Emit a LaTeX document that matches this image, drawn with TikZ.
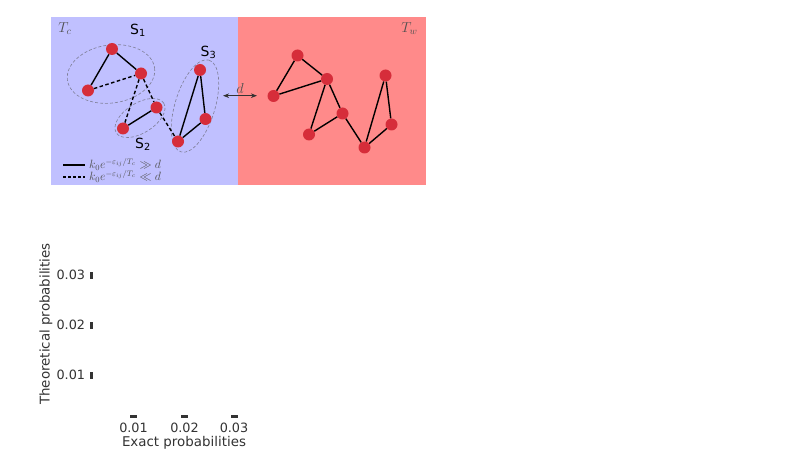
\documentclass[tikz,border=0pt]{standalone}
\usepackage{amsmath,amssymb}
\usepackage{fontspec}
\usepackage{tikz}
\usepackage{xcolor}
\usetikzlibrary{arrows.meta,positioning}
\setsansfont{DejaVu Sans}
\newfontfamily\plotfont{DejaVu Sans}
\definecolor{PanelCold}{HTML}{C0C0FF}
\definecolor{PanelWarm}{HTML}{FF8A8A}
\definecolor{SpinRed}{HTML}{D62D3A}
\definecolor{RingGray}{HTML}{7E7E96}
\definecolor{LabelGray}{HTML}{505050}
\definecolor{AxisGray}{HTML}{333333}
\tikzset{
    % Spin node style
    spinnode/.style={
        circle,
        fill=SpinRed,
        draw=none,
        inner sep=0pt,
        minimum size=12pt
    },
    % Strong coupling (solid)
    strongbond/.style={
        draw=black,
        line width=1.4pt
    },
    % Weak coupling (dashed)
    weakbond/.style={
        draw=black,
        line width=1.4pt,
        dash pattern=on 3.5pt off 2.5pt
    },
    % Cluster outline
    clusterring/.style={
        draw=RingGray,
        line width=0.6pt,
        dash pattern=on 3pt off 2pt
    },
    % Cluster label
    clusterlabel/.style={
        font=\fontsize{14}{16}\selectfont\sffamily,
        inner sep=0pt
    },
    % Bath temperature label
    bathlabel/.style={
        text=LabelGray,
        font=\fontsize{14}{16}\selectfont,
        inner sep=0pt
    },
    % Legend text
    legendtext/.style={
        text=LabelGray,
        font=\fontsize{11.8}{13}\selectfont,
        anchor=west,
        inner sep=0pt
    },
    % Exchange arrow
    swaparrow/.style={
        <->,
        >=Stealth,
        line width=0.7pt,
        draw=AxisGray
    },
    % Tick marks
    ytick/.style={
        rectangle,
        fill=AxisGray,
        inner sep=0pt,
        minimum width=2.5pt,
        minimum height=7pt
    },
    xtick/.style={
        rectangle,
        fill=AxisGray,
        inner sep=0pt,
        minimum width=7pt,
        minimum height=2.5pt
    },
    % Tick labels
    ticklabel/.style={
        text=AxisGray,
        font=\fontsize{12.8}{14}\selectfont\plotfont,
        inner sep=0pt
    },
    % Axis labels
    axislabel/.style={
        text=AxisGray,
        font=\fontsize{13.4}{15}\selectfont\plotfont,
        inner sep=0pt
    }
}
\begin{document}
\begin{tikzpicture}[x=1pt, y=-1pt]
        \useasboundingbox (0,0) rectangle (789,457);

        % Panels
        \fill[PanelCold] (51,17) rectangle (238,185);
        \fill[PanelWarm] (238,17) rectangle (426,185);
        \node[bathlabel] (tc) at (65,28.5) {$T_c$};
        \node[bathlabel] (tw) at (409.5,28.5) {$T_w$};

        % Cluster outlines
        \draw[clusterring, shift={(111,74)}, rotate=8] (0,0) ellipse (44 and 29);
        \draw[clusterring, shift={(140,118)}, rotate=32] (0,0) ellipse (28 and 15);
        \draw[clusterring, shift={(195,106)}, rotate=73] (0,0) ellipse (48 and 20);

        % Cold spins
        \node[spinnode] (s1a) at (112,49) {};
        \node[spinnode] (s1b) at (141,73.5) {};
        \node[spinnode] (s1c) at (88,90.5) {};
        \node[spinnode] (s2a) at (156.5,107.5) {};
        \node[spinnode] (s2b) at (123,128.5) {};
        \node[spinnode] (s3a) at (200,70) {};
        \node[spinnode] (s3b) at (205.5,119) {};
        \node[spinnode] (s3c) at (178,141.5) {};

        % Cold bonds
        \draw[strongbond] (s1a) -- (s1b);
        \draw[strongbond] (s1a) -- (s1c);
        \draw[weakbond] (s1c) -- (s1b);
        \draw[weakbond] (s1b) -- (s2b);
        \draw[weakbond] (s1b) -- (s2a);
        \draw[strongbond] (s2a) -- (s2b);
        \draw[weakbond] (s2a) -- (s3c);
        \draw[strongbond] (s3a) -- (s3b);
        \draw[strongbond] (s3a) -- (s3c);
        \draw[strongbond] (s3b) -- (s3c);

        % Cluster labels
        \node[clusterlabel] (lab1) at (138,30) {S\textsubscript{1}};
        \node[clusterlabel] (lab2) at (143,144) {S\textsubscript{2}};
        \node[clusterlabel] (lab3) at (208.5,52.5) {S\textsubscript{3}};

        % Warm spins
        \node[spinnode] (w1) at (297.5,55.5) {};
        \node[spinnode] (w2) at (327,79) {};
        \node[spinnode] (w3) at (273.5,96) {};
        \node[spinnode] (w4) at (342.5,113.5) {};
        \node[spinnode] (w5) at (309,134.5) {};
        \node[spinnode] (w6) at (364.5,147.5) {};
        \node[spinnode] (w7) at (385.5,75.5) {};
        \node[spinnode] (w8) at (391.5,124.5) {};

        % Warm bonds
        \draw[strongbond] (w1) -- (w2);
        \draw[strongbond] (w1) -- (w3);
        \draw[strongbond] (w3) -- (w2);
        \draw[strongbond] (w2) -- (w5);
        \draw[strongbond] (w2) -- (w4);
        \draw[strongbond] (w4) -- (w5);
        \draw[strongbond] (w4) -- (w6);
        \draw[strongbond] (w6) -- (w7);
        \draw[strongbond] (w7) -- (w8);
        \draw[strongbond] (w8) -- (w6);

        % Exchange between baths
        \coordinate (swapL) at (223,95.7);
        \coordinate (swapR) at (257,95.7);
        \draw[swaparrow] (swapL) -- node[bathlabel, above=2pt]{$d$} (swapR);

        % Legend
        \coordinate (legA) at (63,165);
        \coordinate (legB) at (85,165);
        \coordinate (legC) at (63,177);
        \coordinate (legD) at (85,177);
        \draw[strongbond, line width=1.1pt] (legA) -- (legB);
        \draw[weakbond, line width=1.1pt, dash pattern=on 3pt off 2pt] (legC) -- (legD);
        \node[legendtext] (leg1) at (89,164.5) {$k_0e^{-\varepsilon_{ij}/T_c}\gg d$};
        \node[legendtext] (leg2) at (89,176.5) {$k_0e^{-\varepsilon_{ij}/T_c}\ll d$};

        % Axes
        \node[ytick] (yt1) at (91.7,375) {};
        \node[ytick] (yt2) at (91.7,325) {};
        \node[ytick] (yt3) at (91.7,275) {};
        \node[ticklabel, left=5pt of yt1] {0.01};
        \node[ticklabel, left=5pt of yt2] {0.02};
        \node[ticklabel, left=5pt of yt3] {0.03};
        \node[xtick] (xt1) at (133.5,416.5) {};
        \node[xtick] (xt2) at (184.5,416.5) {};
        \node[xtick] (xt3) at (234,416.5) {};
        \node[ticklabel, below=5pt of xt1] {0.01};
        \node[ticklabel, below=5pt of xt2] {0.02};
        \node[ticklabel, below=5pt of xt3] {0.03};
        \node[axislabel, anchor=base] (xlab) at (184,446.5) {Exact probabilities};
        \node[axislabel, rotate=90] (ylab) at (46,324) {Theoretical probabilities};
    \end{tikzpicture}
\end{document}
